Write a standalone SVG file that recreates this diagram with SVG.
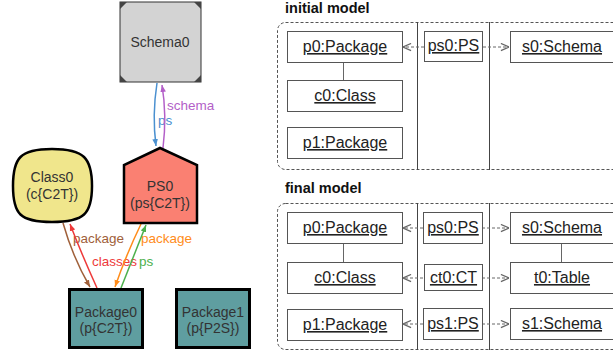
<svg xmlns="http://www.w3.org/2000/svg" width="613" height="356" viewBox="0 0 613 356">
<defs>
<style>
.nt{font-family:"Liberation Sans",Arial,sans-serif;font-size:14px;fill:#333;text-anchor:middle}
.el{font-family:"Liberation Sans",Arial,sans-serif;font-size:13.5px}
.ttl{font-family:"Liberation Sans",Arial,sans-serif;font-size:14.5px;font-weight:bold;fill:#111}
.ob{fill:#fff;stroke:#555;stroke-width:1}
.ot{font-family:"Liberation Sans",Arial,sans-serif;font-size:16px;fill:#222;text-anchor:middle;text-decoration:underline}
.frame{fill:none;stroke:#555;stroke-width:1;stroke-dasharray:3,2}
.sep{stroke:#444;stroke-width:1}
.da{fill:none;stroke:#666;stroke-width:1;stroke-dasharray:3,2}
.link{stroke:#666;stroke-width:1}
.e{fill:none;stroke-width:1.5}
</style>
<marker id="mBlue" viewBox="0 0 10 10" refX="10" refY="5" markerWidth="7" markerHeight="7" markerUnits="userSpaceOnUse" orient="auto"><path d="M0,1 L10,5 L0,9 z" fill="#4a90d0"/></marker>
<marker id="mPurple" viewBox="0 0 10 10" refX="10" refY="5" markerWidth="7" markerHeight="7" markerUnits="userSpaceOnUse" orient="auto"><path d="M0,1 L10,5 L0,9 z" fill="#b35fc8"/></marker>
<marker id="mBrown" viewBox="0 0 10 10" refX="10" refY="5" markerWidth="7" markerHeight="7" markerUnits="userSpaceOnUse" orient="auto"><path d="M0,1 L10,5 L0,9 z" fill="#a0603a"/></marker>
<marker id="mRed" viewBox="0 0 10 10" refX="10" refY="5" markerWidth="7" markerHeight="7" markerUnits="userSpaceOnUse" orient="auto"><path d="M0,1 L10,5 L0,9 z" fill="#ee3a3a"/></marker>
<marker id="mOrange" viewBox="0 0 10 10" refX="10" refY="5" markerWidth="7" markerHeight="7" markerUnits="userSpaceOnUse" orient="auto"><path d="M0,1 L10,5 L0,9 z" fill="#ff8c1a"/></marker>
<marker id="mGreen" viewBox="0 0 10 10" refX="10" refY="5" markerWidth="7" markerHeight="7" markerUnits="userSpaceOnUse" orient="auto"><path d="M0,1 L10,5 L0,9 z" fill="#4cb04c"/></marker>
<marker id="mOpen" viewBox="0 0 10 10" refX="10" refY="5" markerWidth="9" markerHeight="9" markerUnits="userSpaceOnUse" orient="auto"><path d="M1,1 L10,5 L1,9" fill="none" stroke="#666" stroke-width="1.3"/></marker>
</defs>
<rect width="613" height="356" fill="#fff"/>

<g id="connectors">
<path class="e" d="M157,83 Q152,115 156,146" stroke="#4a90d0" marker-end="url(#mBlue)"/>
<text class="el" x="158" y="125" fill="#4a90d0">ps</text>
<path class="e" d="M163,148 Q167,115 162,85" stroke="#b35fc8" marker-end="url(#mPurple)"/>
<text class="el" x="167" y="110" fill="#b35fc8">schema</text>
<path class="e" d="M63,223 Q73,258 90,287" stroke="#a0603a" marker-end="url(#mBrown)"/>
<text class="el" x="73" y="243" fill="#a0603a">package</text>
<path class="e" d="M97,288 Q82,255 70,224" stroke="#ee3a3a" marker-end="url(#mRed)"/>
<text class="el" x="92" y="266" fill="#ee3a3a">classes</text>
<path class="e" d="M141,224 Q126,255 115,287" stroke="#ff8c1a" marker-end="url(#mOrange)"/>
<text class="el" x="141" y="243" fill="#ff8c1a">package</text>
<path class="e" d="M121,288 Q134,255 146,225" stroke="#4cb04c" marker-end="url(#mGreen)"/>
<text class="el" x="139" y="266" fill="#4cb04c">ps</text>
</g>

<g id="Schema0">
<rect x="120" y="2" width="81" height="80" fill="#d3d3d3" stroke="#333" stroke-width="1"/>
<path d="M120,2 L127,2 L120,9 z M201,2 L194,2 L201,9 z M120,82 L127,82 L120,75 z M201,82 L194,82 L201,75 z" fill="#444"/>
<text class="nt" x="160" y="47">Schema0</text>
</g>
<g id="PS0">
<polygon points="160,148 197,165 197,223 124,223 124,165" fill="#fa8072" stroke="#000" stroke-width="2.5" stroke-linejoin="miter"/>
<text class="nt" x="160" y="191">PS0</text>
<text class="nt" x="160" y="208">(ps{C2T})</text>
</g>
<g id="Class0">
<path d="M52,149 C84,149 92,158 92,186 C92,214 84,222 52,222 C20,222 13,214 13,186 C13,158 20,149 52,149 z" fill="#f0e68c" stroke="#000" stroke-width="2.5"/>
<text class="nt" x="52" y="182">Class0</text>
<text class="nt" x="52" y="199">(c{C2T})</text>
</g>
<g id="Package0">
<rect x="69.5" y="289.5" width="73" height="58" fill="#5f9ea0" stroke="#000" stroke-width="3"/>
<text class="nt" x="106" y="317">Package0</text>
<text class="nt" x="106" y="333">(p{C2T})</text>
</g>
<g id="Package1">
<rect x="176.5" y="289.5" width="73" height="58" fill="#5f9ea0" stroke="#000" stroke-width="3"/>
<text class="nt" x="213" y="317">Package1</text>
<text class="nt" x="213" y="333">(p{P2S})</text>
</g>

<g id="initial-model">
<text class="ttl" x="285" y="13">initial model</text>
<rect class="frame" x="277.5" y="22.5" width="360" height="147" rx="8" ry="8"/>
<line class="sep" x1="417.5" y1="22" x2="417.5" y2="170"/>
<line class="sep" x1="489.5" y1="22" x2="489.5" y2="170"/>
<line class="link" x1="343.5" y1="62" x2="343.5" y2="80"/>
<line class="da" x1="424" y1="47" x2="403" y2="47" marker-end="url(#mOpen)"/>
<line class="da" x1="483" y1="47" x2="509" y2="47" marker-end="url(#mOpen)"/>
<g id="i-p0"><rect class="ob" x="287.5" y="31.5" width="115" height="31"/><text class="ot" x="345" y="52">p0:Package</text></g>
<g id="i-c0"><rect class="ob" x="287.5" y="80.5" width="115" height="31"/><text class="ot" x="345" y="101">c0:Class</text></g>
<g id="i-p1"><rect class="ob" x="287.5" y="127.5" width="115" height="31"/><text class="ot" x="345" y="148">p1:Package</text></g>
<g id="i-ps0"><rect class="ob" x="424.5" y="31.5" width="58" height="30"/><text class="ot" x="453.5" y="51">ps0:PS</text></g>
<g id="i-s0"><rect class="ob" x="510.5" y="31.5" width="110" height="31"/><text class="ot" x="562" y="52">s0:Schema</text></g>
</g>

<g id="final-model">
<text class="ttl" x="285" y="193">final model</text>
<rect class="frame" x="277.5" y="203.5" width="360" height="146" rx="8" ry="8"/>
<line class="sep" x1="417.5" y1="203" x2="417.5" y2="350"/>
<line class="sep" x1="489.5" y1="203" x2="489.5" y2="350"/>
<line class="link" x1="343.5" y1="244" x2="343.5" y2="262"/>
<line class="link" x1="561.5" y1="243" x2="561.5" y2="262"/>
<line class="da" x1="423" y1="228" x2="403" y2="228" marker-end="url(#mOpen)"/>
<line class="da" x1="482" y1="228" x2="509" y2="228" marker-end="url(#mOpen)"/>
<line class="da" x1="423" y1="278" x2="403" y2="278" marker-end="url(#mOpen)"/>
<line class="da" x1="482" y1="278" x2="509" y2="278" marker-end="url(#mOpen)"/>
<line class="da" x1="423" y1="324" x2="403" y2="324" marker-end="url(#mOpen)"/>
<line class="da" x1="482" y1="324" x2="509" y2="324" marker-end="url(#mOpen)"/>
<g id="f-p0"><rect class="ob" x="287.5" y="212.5" width="115" height="31"/><text class="ot" x="345" y="233">p0:Package</text></g>
<g id="f-c0"><rect class="ob" x="287.5" y="262.5" width="115" height="31"/><text class="ot" x="345" y="283">c0:Class</text></g>
<g id="f-p1"><rect class="ob" x="287.5" y="309.5" width="115" height="31"/><text class="ot" x="345" y="330">p1:Package</text></g>
<g id="f-ps0"><rect class="ob" x="423.5" y="212.5" width="59" height="31"/><text class="ot" x="453" y="233">ps0:PS</text></g>
<g id="f-ct0"><rect class="ob" x="424.5" y="264.5" width="58" height="26"/><text class="ot" x="453.5" y="283">ct0:CT</text></g>
<g id="f-ps1"><rect class="ob" x="423.5" y="308.5" width="59" height="31"/><text class="ot" x="453" y="329">ps1:PS</text></g>
<g id="f-s0"><rect class="ob" x="510.5" y="212.5" width="110" height="31"/><text class="ot" x="562" y="233">s0:Schema</text></g>
<g id="f-t0"><rect class="ob" x="510.5" y="262.5" width="110" height="31"/><text class="ot" x="562" y="283">t0:Table</text></g>
<g id="f-s1"><rect class="ob" x="510.5" y="308.5" width="110" height="31"/><text class="ot" x="562" y="329">s1:Schema</text></g>
</g>
</svg>
